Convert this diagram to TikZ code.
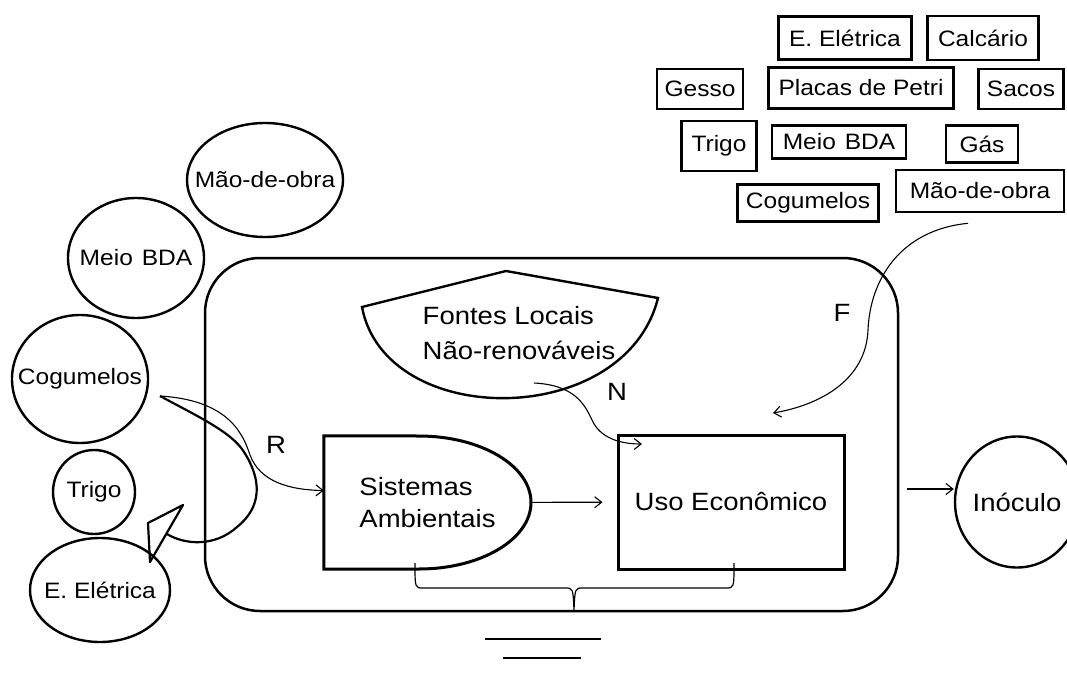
\documentclass[tikz,border=0pt]{standalone}
\usepackage{fontspec}
\setmainfont[FakeStretch=1.1]{Liberation Sans}
\usetikzlibrary{arrows.meta, shapes.geometric}

\begin{document}
\begin{tikzpicture}[x=1pt,y=-1pt,>={Straight Barb[length=7pt,width=11pt]},thin]
            \tikzset{small/.style={font=\fontsize{22.3}{27}\selectfont},
                     big/.style={font=\fontsize{25}{32}\selectfont},
                     bubble/.style={ellipse, draw, line width=2.4pt, inner sep=0pt, label={[small]center:#1}},
                     src/.style={rectangle, draw, line width=2.6pt, inner sep=0pt, small},
                     flow/.style={->, line width=1.1pt}}
            \useasboundingbox (0,0) rectangle (1067,674);
            \node[draw, rounded corners=55pt, line width=2.5pt, minimum width=693pt, minimum height=353pt] (sys) at (551.5,434.5) {};
            \node[src, minimum width=133pt, minimum height=43pt] (el) at (845,38) {E. Elétrica};
            \node[src, minimum width=111pt, minimum height=44pt] (cal) at (983,38) {Calcário};
            \node[src, minimum width=86pt, minimum height=40pt] (ges) at (700,89) {Gesso};
            \node[src, minimum width=185pt, minimum height=41pt] (pet) at (861,88) {Placas de Petri};
            \node[src, minimum width=85pt, minimum height=40pt] (sac) at (1021,89) {Sacos};
            \node[src, minimum width=75pt, minimum height=50pt] (tri) at (719,146) {Trigo};
            \node[src, minimum width=134pt, minimum height=33pt] (bda) at (839,142) {Meio\hskip.4em BDA};
            \node[src, minimum width=72pt, minimum height=37pt] (gas) at (982,144) {Gás};
            \node[src, minimum width=141pt, minimum height=37pt] (cog) at (808,203) {Cogumelos};
            \node[src, minimum width=168pt, minimum height=42pt] (mao) at (980,191) {Mão-de-obra};
            \node[bubble=Mão-de-obra, minimum width=156pt, minimum height=114pt] (lmao) at (265,180) {};
            \node[bubble=Meio\hskip.4em BDA, minimum width=136pt, minimum height=120pt] (lbda) at (136,258) {};
            \node[bubble=Cogumelos, minimum width=136pt, minimum height=128pt] (lcog) at (80,379) {};
            \node[bubble=Trigo, minimum width=82pt, minimum height=84pt] (ltri) at (94,492) {};
            \node[bubble=E. Elétrica, minimum width=140pt, minimum height=104pt] (lel) at (100,590) {};
            \node[big, align=left] (fon) at (519,333) {Fontes Locais\\[3pt]Não-renováveis};
            \draw[line width=2.4pt] (362,307) -- (506,271) -- (658,298) .. controls (625,430) and (385,430) .. cycle;
            \node[big, align=left, minimum width=207pt, minimum height=133pt] (sist) at (427.5,502.5) {Sistemas\\Ambientais};
            \draw[line width=3pt] (419,569) -| (sist.north west) -- (419,436) arc[start angle=-90, end angle=90, x radius=112, y radius=66.5];
            \node[draw, line width=3pt, big, minimum width=226pt, minimum height=134pt] (uso) at (731,502) {Uso Econômico};
            \node[ellipse, draw, line width=2.4pt, minimum width=124pt, minimum height=131pt, label={[big]center:Inóculo}] (inoc) at (1017,502) {};
            \node[big] (r) at (276,445) {R};
            \node[big] (n) at (617,392) {N};
            \node[big] (f) at (842,313) {F};
            \coordinate (rstart) at (160,396);
            \coordinate (nsrc) at (534,383);
            \coordinate (nend) at (642,444);
            \coordinate (fend) at (773,413);
            \coordinate (sysout) at (907,489);
            \draw[line width=2.2pt, line join=round] (rstart) .. controls (195,415) and (232,432) .. (244,452)
                .. controls (262,480) and (262,507) .. (237,527)
                .. controls (215,547) and (185,545) .. (167,534);
            \draw[line width=2.2pt, line join=round] (183,505) -- (148,523) -- (150,562) -- cycle;
            \draw[flow] (rstart) .. controls (225,400) and (242,430) .. (250,455) .. controls (260,482) and (290,490) .. ([yshift=12pt]sist.west);
            \draw[flow] (nsrc) .. controls (575,385) and (585,405) .. (592,420) .. controls (600,438) and (620,444) .. (nend);
            \draw[flow] ([xshift=-12pt,yshift=-10pt]mao.south) .. controls (900,230) and (870,280) .. (868,330) .. controls (866,380) and (820,405) .. (fend);
            \path[flow] (sist) edge[shorten >=14pt] (uso);
            \draw[flow] (sysout) -- (sysout -| inoc.west);
            \draw[line width=1.2pt] (415,563) .. controls (415,588) .. (423,588) -- (565,588) .. controls (573,588) .. (574,610)
                .. controls (575,588) .. (583,588) -- (726,588) .. controls (734,588) .. (734,563);
            \draw[line width=1.6pt] (485,639) -- (601,639);
            \draw[line width=1.6pt] (503,658) -- (581,658);
\end{tikzpicture}
\end{document}
